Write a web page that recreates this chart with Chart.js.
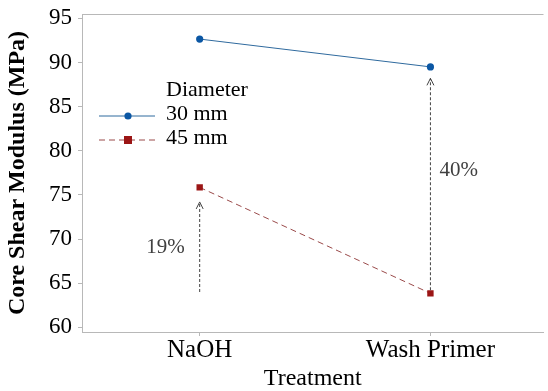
<!DOCTYPE html>
<html lang="en">
<head>
    <meta charset="UTF-8">
    <title>Core Shear Modulus by Treatment</title>
    <style>
        html, body { margin: 0; padding: 0; background: #fff; }
        .chart-container { width: 548px; height: 391px; }
    </style>
</head>
<body>
<div class="chart-container"><canvas id="lineChart" width="548" height="391"></canvas></div>

<script src="https://cdn.jsdelivr.net/npm/chart.js"></script>
<script>
    // Data
    const treatments = ['NaOH', 'Wash Primer'];
    const diameters = ['30 mm', '45 mm'];
    const modulus30 = [92.65, 89.5];
    const modulus45 = [75.85, 63.85];
    const yTicks = [60, 65, 70, 75, 80, 85, 90, 95];

    // Improvement arrows (from -> to, in MPa) and their labels
    const arrowFrom = [64.0, 64.2];
    const arrowTo = [74.2, 88.2];
    const arrowLabels = ['19%', '40%'];
    const arrowLabelAt = [69.0, 77.8];

    const serif = "'Liberation Serif', 'Times New Roman', serif";
    const frameGray = '#b8b8b8';

    // Arrows, labels and the legend box, drawn on top of the chart
    const annotations = {
        id: 'annotations',
        afterDatasetsDraw(chart) {
            const ctx = chart.ctx;
            const x = chart.scales.x, y = chart.scales.y;
            ctx.save();
            arrowFrom.forEach((v, i) => {
                const px = x.getPixelForValue(i);
                const y0 = y.getPixelForValue(v), y1 = y.getPixelForValue(arrowTo[i]);
                ctx.strokeStyle = '#444';
                ctx.lineWidth = 1;
                ctx.setLineDash([3, 2]);
                ctx.beginPath();
                ctx.moveTo(px, y0);
                ctx.lineTo(px, y1);
                ctx.stroke();
                ctx.setLineDash([]);
                ctx.beginPath();
                ctx.moveTo(px - 3.5, y1 + 7);
                ctx.lineTo(px, y1);
                ctx.lineTo(px + 3.5, y1 + 7);
                ctx.stroke();

                ctx.fillStyle = '#404040';
                ctx.font = '21px ' + serif;
                ctx.textBaseline = 'middle';
                ctx.textAlign = i === 0 ? 'right' : 'left';
                ctx.fillText(arrowLabels[i], i === 0 ? px - 15 : px + 9, y.getPixelForValue(arrowLabelAt[i]));
            });

            // legend
            ctx.fillStyle = '#000';
            ctx.font = '22px ' + serif;
            ctx.textAlign = 'left';
            ctx.textBaseline = 'middle';
            ctx.fillText('Diameter', 166, 90);
            chart.data.datasets.forEach((ds, i) => {
                const ly = 116 + i * 24;
                ctx.strokeStyle = ds.borderColor;
                ctx.lineWidth = 1;
                ctx.setLineDash(ds.borderDash || []);
                ctx.beginPath();
                ctx.moveTo(99, ly);
                ctx.lineTo(155, ly);
                ctx.stroke();
                ctx.setLineDash([]);
                ctx.fillStyle = ds.pointBackgroundColor;
                if (ds.pointStyle === 'rect') {
                    ctx.fillRect(124, ly - 4, 8, 8);
                } else {
                    ctx.beginPath();
                    ctx.arc(128, ly, 3.6, 0, Math.PI * 2);
                    ctx.fill();
                }
                ctx.fillStyle = '#000';
                ctx.fillText(diameters[i], 166, ly - 2);
            });

            // top frame line
            ctx.strokeStyle = frameGray;
            ctx.lineWidth = 1;
            ctx.beginPath();
            ctx.moveTo(chart.chartArea.left, chart.chartArea.top + 0.5);
            ctx.lineTo(chart.chartArea.right, chart.chartArea.top + 0.5);
            ctx.stroke();
            ctx.restore();
        }
    };

    new Chart(document.getElementById('lineChart'), {
        type: 'line',
        data: {
            datasets: [
                {
                    label: diameters[0],
                    data: modulus30.map((v, i) => ({ x: i, y: v })),
                    borderColor: '#2f6a9e',
                    borderWidth: 1,
                    pointStyle: 'circle',
                    pointRadius: 3.6,
                    pointBackgroundColor: '#0b57a4',
                    pointBorderColor: '#0b57a4',
                    pointBorderWidth: 0
                },
                {
                    label: diameters[1],
                    data: modulus45.map((v, i) => ({ x: i, y: v })),
                    borderColor: '#9a4a4a',
                    borderWidth: 1,
                    borderDash: [6, 4],
                    pointStyle: 'rect',
                    pointRadius: 4.5,
                    pointBackgroundColor: '#9b1515',
                    pointBorderColor: '#9b1515',
                    pointBorderWidth: 0
                }
            ]
        },
        options: {
            responsive: false,
            animation: false,
            devicePixelRatio: 1,
            layout: { padding: { top: 14, right: 0, left: 0, bottom: 0 } },
            plugins: { legend: { display: false }, tooltip: { enabled: false } },
            scales: {
                x: {
                    type: 'linear',
                    min: -0.51,
                    max: 1.49,
                    afterBuildTicks: s => { s.ticks = treatments.map((_, i) => ({ value: i })); },
                    afterFit: s => { s.height = 59; s.paddingLeft = 0; s.paddingRight = 0; },
                    ticks: {
                        callback: v => treatments[v],
                        color: '#000',
                        font: { family: serif, size: 25 },
                        padding: -1,
                        maxRotation: 0
                    },
                    grid: { drawOnChartArea: false, tickLength: 4, color: frameGray },
                    border: { color: frameGray },
                    title: {
                        display: true,
                        text: 'Treatment',
                        color: '#000',
                        font: { family: serif, size: 24, lineHeight: 1.0 },
                        padding: { top: 0, bottom: 0 }
                    }
                },
                y: {
                    min: 59.47,
                    max: 95.49,
                    afterBuildTicks: s => { s.ticks = yTicks.map(v => ({ value: v })); },
                    afterFit: s => { s.width = 82; s.paddingTop = 0; s.paddingBottom = 0; },
                    ticks: {
                        color: '#000',
                        font: { family: serif, size: 23 },
                        padding: 6
                    },
                    grid: { drawOnChartArea: false, tickLength: 4, color: frameGray },
                    border: { color: frameGray },
                    title: {
                        display: true,
                        text: 'Core Shear Modulus (MPa)',
                        color: '#000',
                        font: { family: serif, size: 24, weight: 'bold' },
                        padding: { top: 3, bottom: 0 }
                    }
                }
            }
        },
        plugins: [annotations]
    });
</script>
</body>
</html>
